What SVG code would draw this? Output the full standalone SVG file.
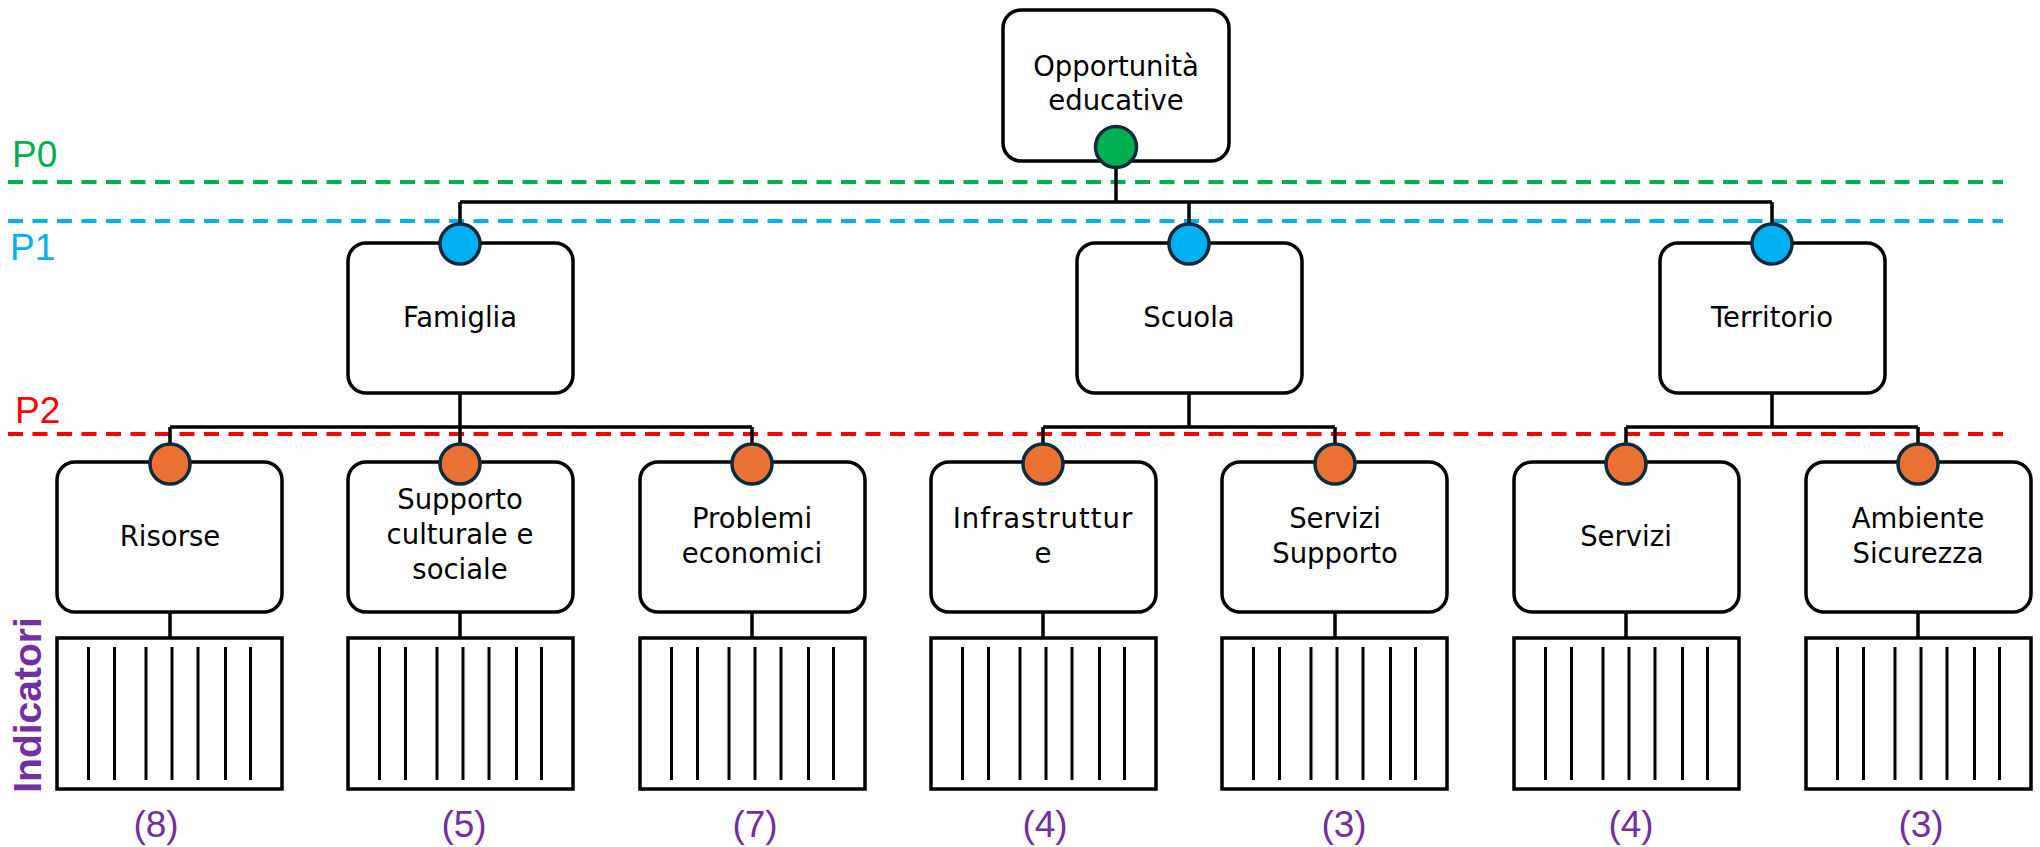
<svg xmlns="http://www.w3.org/2000/svg" width="2040" height="847" viewBox="0 0 2040 847">
<style>
.box{fill:#fff;stroke:#000;stroke-width:3.5}
.ind{fill:#fff;stroke:#000;stroke-width:3.5}
.bar{stroke:#000;stroke-width:3}
.con{fill:none;stroke:#000;stroke-width:3.5}
.lvl{fill:none;stroke-width:4;stroke-dasharray:15 9.5}
.dot{stroke:#0F2A3D;stroke-width:3.5}
.t{font-family:"DejaVu Sans",sans-serif;font-size:27.5px;fill:#000;text-anchor:middle}
.lab{font-family:"Liberation Sans",Arial,sans-serif;font-size:37px}
.num{font-family:"Liberation Sans",Arial,sans-serif;font-size:37px;fill:#7030A0;text-anchor:middle}
</style>
<defs>
<g id="bars">
<line class="bar" x1="31.5" y1="647" x2="31.5" y2="780"/>
<line class="bar" x1="57.5" y1="647" x2="57.5" y2="780"/>
<line class="bar" x1="89" y1="647" x2="89" y2="780"/>
<line class="bar" x1="115" y1="647" x2="115" y2="780"/>
<line class="bar" x1="141" y1="647" x2="141" y2="780"/>
<line class="bar" x1="168.5" y1="647" x2="168.5" y2="780"/>
<line class="bar" x1="193.5" y1="647" x2="193.5" y2="780"/>
</g>
</defs>

<g id="levels">
<line class="lvl" x1="8" y1="182" x2="2003" y2="182" stroke="#00B050"/>
<line class="lvl" x1="8" y1="221" x2="2003" y2="221" stroke="#00B0F0"/>
<line class="lvl" x1="8" y1="434" x2="2003" y2="434" stroke="#FF0000"/>
<text class="lab" x="12" y="167" fill="#00B050">P0</text>
<text class="lab" x="10" y="260" fill="#00B0F0">P1</text>
<text class="lab" x="15" y="423" fill="#FF0000">P2</text>
<text transform="translate(41,705) rotate(-90)" font-family="Liberation Sans,Arial,sans-serif" font-weight="bold" font-size="39" fill="#7030A0" text-anchor="middle">Indicatori</text>
</g>

<g id="connectors">
<path class="con" d="M1116 147V202M460 202H1772M460 202V244M1189 202V244M1772 202V244"/>
<path class="con" d="M460 393V464M170 427H752M170 427V464M752 427V464"/>
<path class="con" d="M1189 393V427M1043 427H1335M1043 427V464M1335 427V464"/>
<path class="con" d="M1772 393V427M1626 427H1918M1626 427V464M1918 427V464"/>
<path class="con" d="M170 612V638M460 612V638M752 612V638M1043 612V638M1335 612V638M1626 612V638M1918 612V638"/>
</g>

<g id="n-root">
<rect class="box" x="1003" y="10" width="226" height="151" rx="18"/>
<text class="t" x="1116" y="76">Opportunità</text>
<text class="t" x="1116" y="110">educative</text>
<circle class="dot" cx="1116" cy="147" r="20.5" fill="#00B050"/>
</g>

<g id="n-famiglia">
<rect class="box" x="348" y="243" width="225" height="150" rx="18"/>
<text class="t" x="460" y="327">Famiglia</text>
<circle class="dot" cx="460" cy="244" r="20" fill="#00B0F0"/>
</g>
<g id="n-scuola">
<rect class="box" x="1077" y="243" width="225" height="150" rx="18"/>
<text class="t" x="1189" y="327">Scuola</text>
<circle class="dot" cx="1189" cy="244" r="20" fill="#00B0F0"/>
</g>
<g id="n-territorio">
<rect class="box" x="1660" y="243" width="225" height="150" rx="18"/>
<text class="t" x="1772" y="327">Territorio</text>
<circle class="dot" cx="1772" cy="244" r="20" fill="#00B0F0"/>
</g>

<g id="n-risorse">
<rect class="box" x="57" y="462" width="225" height="150" rx="18"/>
<text class="t" x="170" y="546">Risorse</text>
<circle class="dot" cx="170" cy="464" r="20" fill="#E97132"/>
</g>
<g id="n-supporto">
<rect class="box" x="348" y="462" width="225" height="150" rx="18"/>
<text class="t" x="460" y="509">Supporto</text>
<text class="t" x="460" y="544">culturale e</text>
<text class="t" x="460" y="579">sociale</text>
<circle class="dot" cx="460" cy="464" r="20" fill="#E97132"/>
</g>
<g id="n-problemi">
<rect class="box" x="640" y="462" width="225" height="150" rx="18"/>
<text class="t" x="752" y="528">Problemi</text>
<text class="t" x="752" y="563">economici</text>
<circle class="dot" cx="752" cy="464" r="20" fill="#E97132"/>
</g>
<g id="n-infrastrutture">
<rect class="box" x="931" y="462" width="225" height="150" rx="18"/>
<text class="t" x="1043" y="528" letter-spacing="1">Infrastruttur</text>
<text class="t" x="1043" y="563">e</text>
<circle class="dot" cx="1043" cy="464" r="20" fill="#E97132"/>
</g>
<g id="n-servizi-supporto">
<rect class="box" x="1222" y="462" width="225" height="150" rx="18"/>
<text class="t" x="1335" y="528">Servizi</text>
<text class="t" x="1335" y="563">Supporto</text>
<circle class="dot" cx="1335" cy="464" r="20" fill="#E97132"/>
</g>
<g id="n-servizi">
<rect class="box" x="1514" y="462" width="225" height="150" rx="18"/>
<text class="t" x="1626" y="546">Servizi</text>
<circle class="dot" cx="1626" cy="464" r="20" fill="#E97132"/>
</g>
<g id="n-ambiente">
<rect class="box" x="1806" y="462" width="225" height="150" rx="18"/>
<text class="t" x="1918" y="528">Ambiente</text>
<text class="t" x="1918" y="563">Sicurezza</text>
<circle class="dot" cx="1918" cy="464" r="20" fill="#E97132"/>
</g>

<g id="ind-risorse">
<rect class="ind" x="57" y="638" width="225" height="151"/>
<use href="#bars" x="57"/>
<text class="num" x="156" y="837">(8)</text>
</g>
<g id="ind-supporto">
<rect class="ind" x="348" y="638" width="225" height="151"/>
<use href="#bars" x="348"/>
<text class="num" x="464" y="837">(5)</text>
</g>
<g id="ind-problemi">
<rect class="ind" x="640" y="638" width="225" height="151"/>
<use href="#bars" x="640"/>
<text class="num" x="755" y="837">(7)</text>
</g>
<g id="ind-infrastrutture">
<rect class="ind" x="931" y="638" width="225" height="151"/>
<use href="#bars" x="931"/>
<text class="num" x="1045" y="837">(4)</text>
</g>
<g id="ind-servizi-supporto">
<rect class="ind" x="1222" y="638" width="225" height="151"/>
<use href="#bars" x="1222"/>
<text class="num" x="1344" y="837">(3)</text>
</g>
<g id="ind-servizi">
<rect class="ind" x="1514" y="638" width="225" height="151"/>
<use href="#bars" x="1514"/>
<text class="num" x="1631" y="837">(4)</text>
</g>
<g id="ind-ambiente">
<rect class="ind" x="1806" y="638" width="225" height="151"/>
<use href="#bars" x="1806"/>
<text class="num" x="1921" y="837">(3)</text>
</g>
</svg>
